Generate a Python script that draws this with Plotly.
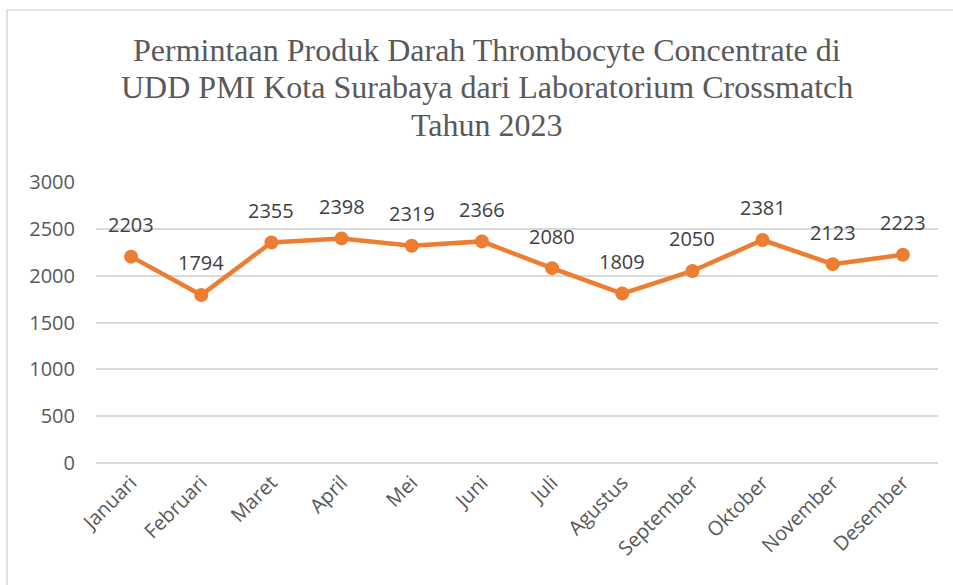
import plotly.graph_objects as go

months = ["Januari", "Februari", "Maret", "April", "Mei", "Juni", "Juli",
          "Agustus", "September", "Oktober", "November", "Desember"]
values = [2203, 1794, 2355, 2398, 2319, 2366, 2080, 1809, 2050, 2381, 2123, 2223]
y_ticks = [0, 500, 1000, 1500, 2000, 2500, 3000]
title_lines = ["Permintaan Produk Darah Thrombocyte Concentrate di",
               "UDD PMI Kota Surabaya dari Laboratorium Crossmatch",
               "Tahun 2023"]

W, H = 953, 585
ml, mr, mt, mb = 96, 15, 182, 122
pw, ph = W - ml - mr, H - mt - mb

fig = go.Figure()
fig.add_trace(go.Scatter(
    x=months, y=values, mode="lines+markers",
    line=dict(color="#ED7D31", width=4.5),
    marker=dict(color="#ED7D31", size=14),
    hoverinfo="skip", showlegend=False,
))

for m, v in zip(months, values):
    fig.add_annotation(x=m, y=v, text=str(v), showarrow=False,
                       yshift=32, font=dict(family="Open Sans", size=20, color="#404040"))

# title, one line per annotation for tight line spacing
for i, line in enumerate(title_lines):
    ypx = 50 + 37.5 * i
    fig.add_annotation(xref="paper", yref="paper", x=(487 - ml) / pw, y=1 + (mt - ypx) / ph,
                       xanchor="center", yanchor="middle", showarrow=False,
                       text=line, font=dict(family="Liberation Serif", size=32, color="#595959"))

# chart border
fig.add_shape(type="rect", xref="paper", yref="paper",
              x0=(7 - ml) / pw, x1=(W + 5 - ml) / pw,
              y0=-(mb + 5) / ph, y1=1 + (mt - 10) / ph,
              line=dict(color="#D9D9D9", width=1.5), fillcolor="rgba(0,0,0,0)", layer="below")

fig.update_layout(
    width=W, height=H,
    margin=dict(l=ml, r=mr, t=mt, b=mb),
    paper_bgcolor="white", plot_bgcolor="white",
    xaxis=dict(type="category", range=[-0.5, 11.5], tickangle=-45,
               showgrid=False, showline=False, ticks="", ticklabelstandoff=3,
               tickfont=dict(family="Open Sans", size=20, color="#595959")),
    yaxis=dict(range=[0, 3000], tickvals=y_ticks, showgrid=True,
               gridcolor="#D9D9D9", gridwidth=1.5, zeroline=True,
               zerolinecolor="#D9D9D9", zerolinewidth=1.5,
               showline=False, ticks="", ticklabelstandoff=20,
               tickfont=dict(family="Open Sans", size=20, color="#595959")),
)

fig.write_html("out.html", config={"displayModeBar": False})

with open("out.html", "r", encoding="utf-8") as f:
    html = f.read()
html = html.replace("<head>", "<head><style>html,body{margin:0;padding:0;overflow:hidden;}</style>", 1)
with open("out.html", "w", encoding="utf-8") as f:
    f.write(html)
